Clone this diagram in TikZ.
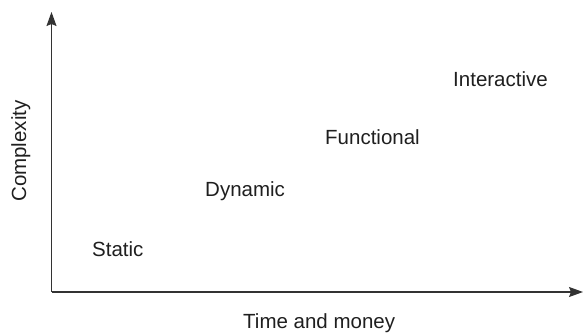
\documentclass[tikz,border=0pt]{standalone}
\usepackage{fontspec}
\setmainfont{Liberation Sans}
\usetikzlibrary{arrows.meta}
\begin{document}
\begin{tikzpicture}[x=1pt,y=1pt,
  lbl/.style={inner sep=0pt, anchor=base west, font=\fontsize{20.5}{24}\selectfont, text=black!88},
  axis/.style={line width=1.1pt, draw=black!80, -{Stealth[length=14pt,width=10pt,inset=2pt]}}]
\useasboundingbox (0,0) rectangle (583,332);
\coordinate (o) at (51.5,40);
\coordinate (ytop) at (51.5,320);
\coordinate (xend) at (583,40);
\draw[axis] (o) -- (ytop);
\draw[axis] (o) -- (xend);
\node[lbl] (static) at (92,76) {Static};
\node[lbl] (dynamic) at (205,135) {Dynamic};
\node[lbl] (functional) at (325,187) {Functional};
\node[lbl] (interactive) at (453,245) {Interactive};
\node[lbl] (xlabel) at (243,4) {Time and money};
\node[lbl, rotate=90] (ylabel) at (26,130) {Complexity};
\end{tikzpicture}
\end{document}
